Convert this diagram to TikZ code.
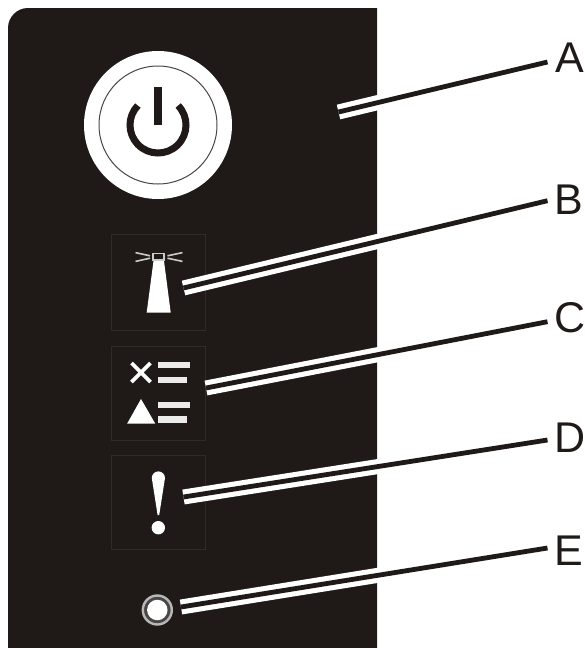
\documentclass[tikz,border=0pt]{standalone}
\usepackage{fontspec}
\usetikzlibrary{calc}
\setmainfont{Liberation Sans}
\definecolor{panel}{HTML}{1F1A17}
\definecolor{frameline}{HTML}{302B28}
\definecolor{ringgray}{HTML}{4A4645}
\tikzset{
  letter/.style={anchor=base west,inner sep=0pt,text=panel,font=\fontsize{43}{43}\selectfont},
  halo/.style={draw=white,line width=15pt},
  leader/.style={draw=panel,line width=4.8pt},
  iconframe/.style={draw=frameline,line width=1pt},
  iconfill/.style={fill=white,draw=none},
  bar/.style={fill=white!92!black,draw=none},
  ray/.style={draw=white!80!black,line width=1.6pt}
}
\begin{document}
\begin{tikzpicture}[x=1pt,y=1pt,yscale=-1]
\useasboundingbox (0,0) rectangle (585,648);
% panel
\fill[panel] (377,648) -- (377,8) -- (28,8) arc[start angle=-90,end angle=-180,radius=20] -- (8,648) -- cycle;
% power button
\node[circle,fill=white,minimum size=148pt,inner sep=0pt] (power) at (158,125) {};
\node[circle,draw=ringgray,line width=1pt,minimum size=118pt,inner sep=0pt] (ring) at (158,125) {};
\draw[panel,line width=7pt] (power.center) ++(-44:28) arc[start angle=-44,end angle=224,radius=28];
\fill[panel] (153.6,87) rectangle (161.8,125);
% icon frames
\node[iconframe,minimum width=94pt,minimum height=96pt,inner sep=0pt] (boxB) at (158.5,282) {};
\node[iconframe,minimum width=94pt,minimum height=94pt,inner sep=0pt] (boxC) at (158.5,393) {};
\node[iconframe,minimum width=94pt,minimum height=94pt,inner sep=0pt] (boxD) at (158.5,502) {};
% lighthouse
\fill[iconfill] (153.5,261) -- (164,261) -- (170.7,312.5) -- (146.7,312.5) -- cycle;
\draw[draw=white!80!black,line width=1.5pt] (153.2,253.5) rectangle (163.8,260);
\draw[ray] (150,255.8) -- (135.5,252.6);
\draw[ray] (150,258.2) -- (135.5,261.4);
\draw[ray] (167.5,255.8) -- (182.5,252.6);
\draw[ray] (167.5,258.2) -- (182.5,261.4);
% list icons
\draw[white,line width=3.6pt] (131.5,363) -- (150.5,382) (150.5,363) -- (131.5,382);
\fill[bar] (158.3,362.3) rectangle (190,368.3);
\fill[bar] (158.3,377.3) rectangle (187.3,383);
\fill[iconfill] (141,399) -- (155.2,423.5) -- (127.2,423.5) -- cycle;
\fill[bar] (158.3,402.3) rectangle (190,408);
\fill[bar] (158.3,416.3) rectangle (187.3,422.5);
% exclamation mark
\fill[iconfill] (151.8,478) arc[start angle=180,end angle=360,radius=6.6] -- (159.2,515) -- (157.6,515) -- cycle;
\node[circle,fill=white,minimum size=13.4pt,inner sep=0pt] (dot) at (158.3,527.7) {};
% LED
\node[circle,fill=ringgray,draw=white!72!black,line width=2.4pt,minimum size=29pt,inner sep=0pt] (led) at (157.3,610) {};
\node[circle,fill=white,minimum size=20.5pt,inner sep=0pt] (ledcore) at (157.3,610) {};
% labels
\node[letter] (labA) at (555,72.7) {A};
\node[letter] (labB) at (554.5,214) {B};
\node[letter] (labC) at (554,332.5) {C};
\node[letter] (labD) at (554,452.7) {D};
\node[letter] (labE) at (554,565) {E};
% connector ends
\coordinate (a0) at (338.5,112);   \coordinate (a1) at (547.5,62);
\coordinate (b0) at (183.5,288);   \coordinate (b1) at (547.5,200.7);
\coordinate (c0) at (206,388);     \coordinate (c1) at (547.5,321.7);
\coordinate (d0) at (183.5,497);   \coordinate (d1) at (547.5,440);
\coordinate (e0) at (181,607);     \coordinate (e1) at (547.5,548);
\foreach \s/\t in {a0/a1,b0/b1,c0/c1,d0/d1,e0/e1}{
  \draw[halo] (\s) -- ($(\s)!0.8!(\t)$);
  \draw[leader] (\s) -- (\t);
}
\end{tikzpicture}
\end{document}
